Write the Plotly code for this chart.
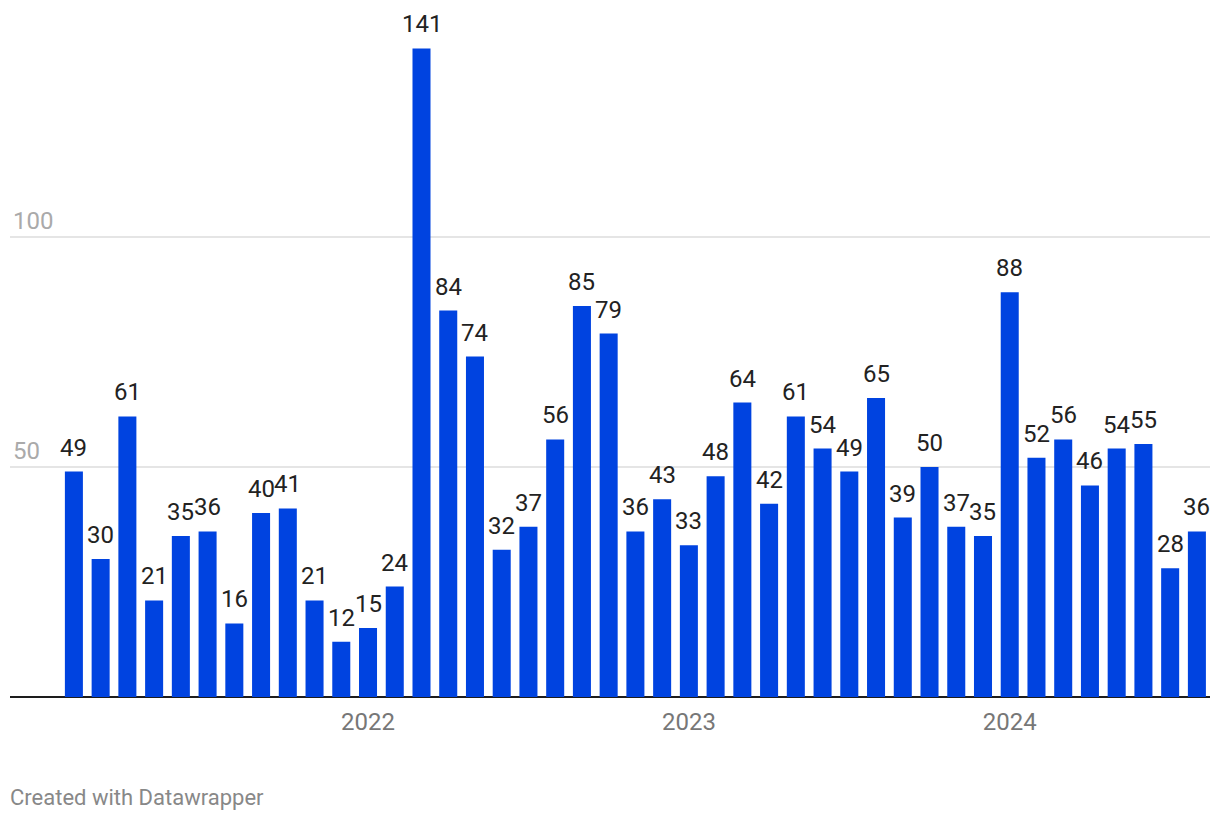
import plotly.graph_objects as go
import pandas as pd

months = [d.strftime("%Y-%m") for d in pd.date_range("2021-02-01", "2024-08-01", freq="MS")]
counts = [49, 30, 61, 21, 35, 36, 16, 40, 41, 21, 12, 15, 24, 141, 84, 74, 32, 37, 56, 85, 79,
          36, 43, 33, 48, 64, 42, 61, 54, 49, 65, 39, 50, 37, 35, 88, 52, 56, 46, 54, 55, 28, 36]
year_ticks = ["2022-01", "2023-01", "2024-01"]
year_labels = ["2022", "2023", "2024"]
y_ticks = [50, 100]

FONT = "Roboto"

fig = go.Figure(go.Bar(
    x=months, y=counts,
    marker=dict(color="#0043e0", line=dict(width=0)),
    hoverinfo="x+y",
))

labels = [dict(
    x=m, y=v, xref="x", yref="y", text=str(v), showarrow=False,
    xanchor="center", yanchor="bottom", yshift=8,
    font=dict(family=FONT, size=24, color="#222222"),
) for m, v in zip(months, counts)]

footer = dict(
    text="Created with Datawrapper", xref="paper", yref="paper",
    x=0, y=-0.1456, xanchor="left", yanchor="middle", showarrow=False,
    xshift=-2,
    font=dict(family=FONT, size=22, color="#888888"),
)

fig.update_layout(
    width=1220, height=820,
    margin=dict(l=10, r=10, t=10, b=123),
    plot_bgcolor="white", paper_bgcolor="white",
    bargap=0.326, showlegend=False,
    font=dict(family=FONT),
    xaxis=dict(
        type="category", range=[-2.39, 42.49],
        tickvals=year_ticks, ticktext=year_labels,
        tickfont=dict(family=FONT, size=24, color="#777777"),
        showgrid=False, ticks="", showline=False, zeroline=False,
        ticklabelstandoff=8,
    ),
    yaxis=dict(
        range=[0, 149.35], tickvals=y_ticks,
        ticklabelposition="inside top",
        tickfont=dict(family=FONT, size=24, color="#aaaaaa"),
        showgrid=True, gridcolor="#e5e5e5", gridwidth=2,
        zeroline=True, zerolinecolor="#1d1d1d", zerolinewidth=2,
        showline=False, ticks="",
    ),
    annotations=labels + [footer],
)

fig.write_html("out.html", config={"displayModeBar": False},
               post_script="document.body.style.margin='0';")
